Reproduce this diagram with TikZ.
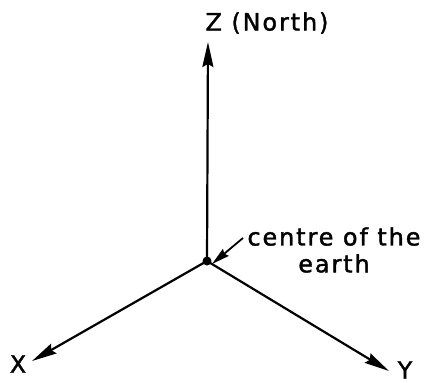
\documentclass[tikz,border=0pt]{standalone}
\usepackage{fontspec}
\setmainfont[LetterSpace=8, FakeBold=1.5]{DejaVu Sans}
\usetikzlibrary{arrows.meta}
\begin{document}
\begin{tikzpicture}[x=1bp, y=-1bp, >={Stealth[length=25bp, width=11bp, inset=3bp]},
    axis/.style={->, line width=2.2bp},
    every node/.style={font=\fontsize{24}{27}\selectfont, inner sep=0pt}]

  \useasboundingbox (0,0) rectangle (429,383);

  % origin and axis ends
  \coordinate (O) at (207,261);
  \coordinate (Ztip) at (208,42);
  \coordinate (Xtip) at (32,361);
  \coordinate (Ytip) at (389,371);

  % axes
  \draw[axis] (O) -- (Ztip);
  \draw[axis] (O) -- (Xtip);
  \draw[axis] (O) -- (Ytip);
  \fill (O) circle (4.5bp);

  % labels
  \node (zlab) at (267,23) {Z (North)};
  \node (xlab) at (18,364) {X};
  \node (ylab) at (405,370) {Y};

  % centre of the earth
  \node[align=center] (centre) at (334,250) {centre of the\\earth};
  \coordinate (cstart) at (243,238);
  \draw[->, >={Stealth[length=18bp, width=9bp, inset=2bp]}, line width=1.8bp] (cstart) -- ([xshift=5bp, yshift=-3bp]O);
\end{tikzpicture}
\end{document}
